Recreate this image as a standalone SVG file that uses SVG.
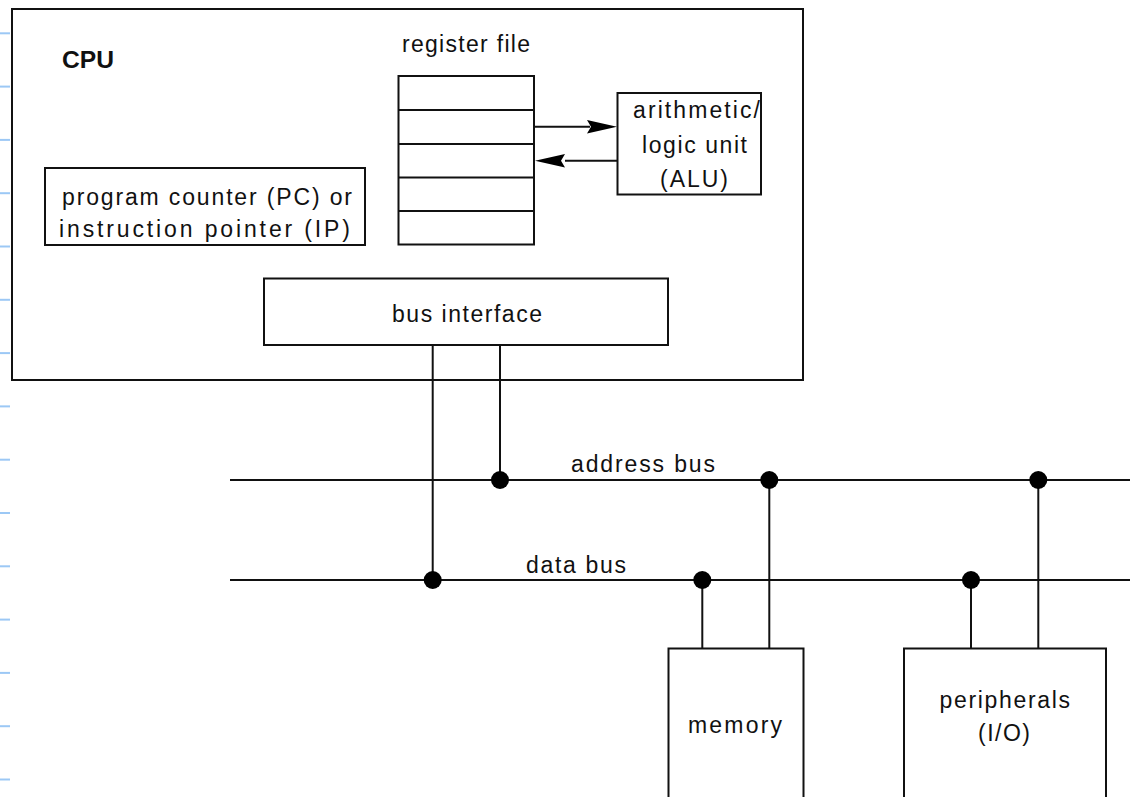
<svg xmlns="http://www.w3.org/2000/svg" width="1130" height="797" viewBox="0 0 1130 797">
<defs>
<style>
.box{fill:#fff;stroke:#111;stroke-width:2}
.ln{stroke:#111;stroke-width:2;fill:none}
.t{font-family:"Liberation Sans",Arial,sans-serif;font-size:23px;fill:#111}
.b{font-family:"Liberation Sans",Arial,sans-serif;font-size:24px;font-weight:bold;fill:#111}
.tick{stroke:#9cc8f5;stroke-width:2}
.dot{fill:#000}
.head{fill:#000}
</style>
</defs>
<rect width="1130" height="797" fill="#fff"/>
<g id="margin-ticks">
<line class="tick" x1="0" y1="33.3" x2="10" y2="33.3"/>
<line class="tick" x1="0" y1="86.6" x2="10" y2="86.6"/>
<line class="tick" x1="0" y1="139.9" x2="10" y2="139.9"/>
<line class="tick" x1="0" y1="193.2" x2="10" y2="193.2"/>
<line class="tick" x1="0" y1="246.5" x2="10" y2="246.5"/>
<line class="tick" x1="0" y1="299.8" x2="10" y2="299.8"/>
<line class="tick" x1="0" y1="353.1" x2="10" y2="353.1"/>
<line class="tick" x1="0" y1="406.4" x2="10" y2="406.4"/>
<line class="tick" x1="0" y1="459.7" x2="10" y2="459.7"/>
<line class="tick" x1="0" y1="513" x2="10" y2="513"/>
<line class="tick" x1="0" y1="566.3" x2="10" y2="566.3"/>
<line class="tick" x1="0" y1="619.6" x2="10" y2="619.6"/>
<line class="tick" x1="0" y1="672.9" x2="10" y2="672.9"/>
<line class="tick" x1="0" y1="726.2" x2="10" y2="726.2"/>
<line class="tick" x1="0" y1="779.5" x2="10" y2="779.5"/>
</g>
<g id="cpu">
<rect class="box" x="12" y="9" width="791" height="371"/>
<text class="b" x="62" y="68" textLength="52" lengthAdjust="spacingAndGlyphs">CPU</text>
</g>
<g id="pc">
<rect class="box" x="45" y="168" width="320" height="77"/>
<text class="t" x="62" y="205" textLength="290" lengthAdjust="spacing">program counter (PC) or</text>
<text class="t" x="59" y="237" textLength="291" lengthAdjust="spacing">instruction pointer (IP)</text>
</g>
<g id="register-file">
<text class="t" x="402" y="52" textLength="128" lengthAdjust="spacing">register file</text>
<rect class="box" x="398.5" y="76" width="135.5" height="168.5"/>
<line class="ln" x1="398.5" y1="110" x2="534" y2="110"/>
<line class="ln" x1="398.5" y1="144" x2="534" y2="144"/>
<line class="ln" x1="398.5" y1="177.5" x2="534" y2="177.5"/>
<line class="ln" x1="398.5" y1="211" x2="534" y2="211"/>
</g>
<g id="alu">
<rect class="box" x="617.5" y="93" width="143.5" height="101.5"/>
<text class="t" x="633" y="118" textLength="127" lengthAdjust="spacing">arithmetic/</text>
<text class="t" x="642" y="153" textLength="105" lengthAdjust="spacing">logic unit</text>
<text class="t" x="660" y="186.5" textLength="68" lengthAdjust="spacing">(ALU)</text>
</g>
<g id="bus-interface">
<rect class="box" x="264" y="278.5" width="404" height="66.5"/>
<text class="t" x="392" y="321.5" textLength="150" lengthAdjust="spacing">bus interface</text>
</g>
<g id="memory">
<rect class="box" x="668.5" y="648.5" width="135" height="160"/>
<text class="t" x="688" y="732.5" textLength="94" lengthAdjust="spacing">memory</text>
</g>
<g id="peripherals">
<rect class="box" x="904" y="648.5" width="202" height="160"/>
<text class="t" x="939.5" y="708" textLength="130.5" lengthAdjust="spacing">peripherals</text>
<text class="t" x="978" y="740.5" textLength="52" lengthAdjust="spacing">(I/O)</text>
</g>
<g id="connectors">
<line class="ln" x1="534" y1="126.7" x2="590" y2="126.7"/>
<path class="head" d="M587,120 L617,126.7 L587,133.4 L591,126.7 Z"/>
<line class="ln" x1="565" y1="160.7" x2="617" y2="160.7"/>
<path class="head" d="M565,154 L535,160.7 L565,167.4 L561,160.7 Z"/>
<line class="ln" x1="230" y1="480" x2="1130" y2="480"/>
<line class="ln" x1="230" y1="580" x2="1130" y2="580"/>
<text class="t" x="571" y="472" textLength="144" lengthAdjust="spacing">address bus</text>
<text class="t" x="526" y="573" textLength="100" lengthAdjust="spacing">data bus</text>
<line class="ln" x1="432.7" y1="345" x2="432.7" y2="580"/>
<line class="ln" x1="500" y1="345" x2="500" y2="480"/>
<line class="ln" x1="702.3" y1="580" x2="702.3" y2="648.5"/>
<line class="ln" x1="769.3" y1="480" x2="769.3" y2="648.5"/>
<line class="ln" x1="971" y1="580" x2="971" y2="648.5"/>
<line class="ln" x1="1038.3" y1="480" x2="1038.3" y2="648.5"/>
<circle class="dot" cx="500" cy="480" r="9"/>
<circle class="dot" cx="769.3" cy="480" r="9"/>
<circle class="dot" cx="1038.3" cy="480" r="9"/>
<circle class="dot" cx="432.7" cy="580" r="9"/>
<circle class="dot" cx="702.3" cy="580" r="9"/>
<circle class="dot" cx="971" cy="580" r="9"/>
</g>
</svg>
